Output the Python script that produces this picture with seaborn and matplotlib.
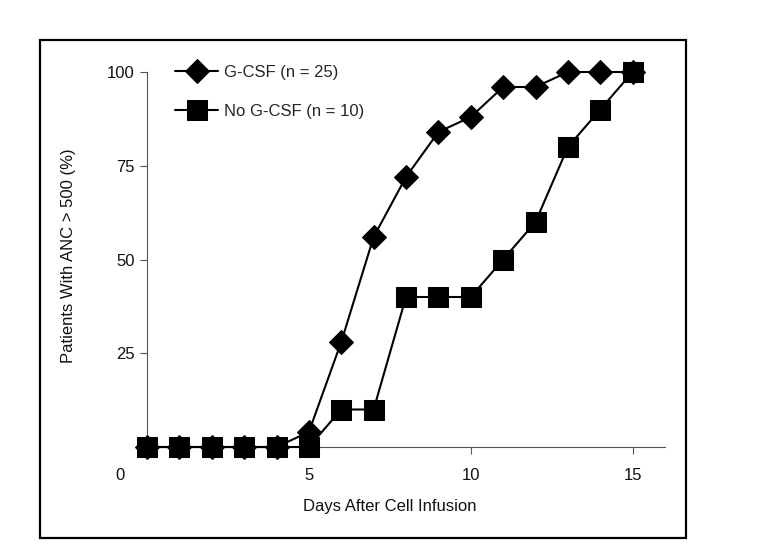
#import modules
import numpy as np
import pandas as pd
import matplotlib
matplotlib.use("Agg")
import matplotlib.pyplot as plt
import seaborn as sns
from matplotlib.patches import Rectangle

# data
days = list(range(0, 16))
gcsf = [0, 0, 0, 0, 0, 4, 28, 56, 72, 84, 88, 96, 96, 100, 100, 100]
no_gcsf = [0, 0, 0, 0, 0, 0, 10, 10, 40, 40, 40, 50, 60, 80, 90, 100]
labels = ["G-CSF (n = 25)", "No G-CSF (n = 10)"]
y_ticks = [25, 50, 75, 100]
x_ticks = [5, 10, 15]

df = pd.DataFrame({"day": days * 2,
                   "pct": gcsf + no_gcsf,
                   "group": [labels[0]] * len(days) + [labels[1]] * len(days)})

sns.set_style("white")
plt.rcParams["font.family"] = ["Liberation Sans", "DejaVu Sans"]
fs = 12

fig = plt.figure(figsize=(7.57, 5.54), dpi=100)
W, H = 757, 554
ax = fig.add_axes([147 / W, 1 - 447 / H, 518 / W, 375 / H])

# outer frame around the whole figure
fig.patches.append(Rectangle((40 / W, 1 - 538 / H), 646 / W, 498 / H,
                             transform=fig.transFigure, fill=False,
                             edgecolor="black", linewidth=1.6))

# squares first, diamonds drawn on top
sns.lineplot(data=df[df["group"] == labels[1]], x="day", y="pct", ax=ax,
             color="black", marker="s", markersize=14, linewidth=1.5,
             markeredgecolor="black", clip_on=False, label=labels[1], zorder=3)
sns.lineplot(data=df[df["group"] == labels[0]], x="day", y="pct", ax=ax,
             color="black", marker="D", markersize=12, linewidth=1.5,
             markeredgecolor="black", clip_on=False, label=labels[0], zorder=4)

ax.set_xlim(0, 16)
ax.set_ylim(0, 100)
ax.set_xticks(x_ticks)
ax.set_yticks(y_ticks)
ax.tick_params(axis="both", direction="out", length=5, width=0.8,
               bottom=True, left=True,
               color="#555555", labelcolor="#111111", labelsize=fs)
ax.tick_params(axis="x", pad=10)
ax.tick_params(axis="y", pad=4)
for side in ["top", "right"]:
    ax.spines[side].set_visible(False)
for side in ["left", "bottom"]:
    ax.spines[side].set_color("#555555")
    ax.spines[side].set_linewidth(0.8)

# shared origin label
ax.text(-0.83, -7.5, "0", ha="center", va="center", fontsize=fs,
        color="#111111", clip_on=False)

ax.set_xlabel("Days After Cell Infusion", fontsize=fs, color="#111111")
ax.set_ylabel("Patients With ANC > 500 (%)", fontsize=fs, color="#111111")
ax.xaxis.set_label_coords((390 - 147) / 518, (447 - 499) / 375)
ax.yaxis.set_label_coords((76 - 147) / 518, 0.51)

handles, lbls = ax.get_legend_handles_labels()
order = [lbls.index(labels[0]), lbls.index(labels[1])]
ax.legend([handles[i] for i in order], [lbls[i] for i in order],
          loc="upper left", bbox_to_anchor=(175 / W, 1 - 65 / H),
          bbox_transform=fig.transFigure, frameon=False, fontsize=fs,
          handlelength=2.6, handletextpad=0.35, labelspacing=1.45,
          borderpad=0, borderaxespad=0)

fig.savefig("out.png", dpi=100)
